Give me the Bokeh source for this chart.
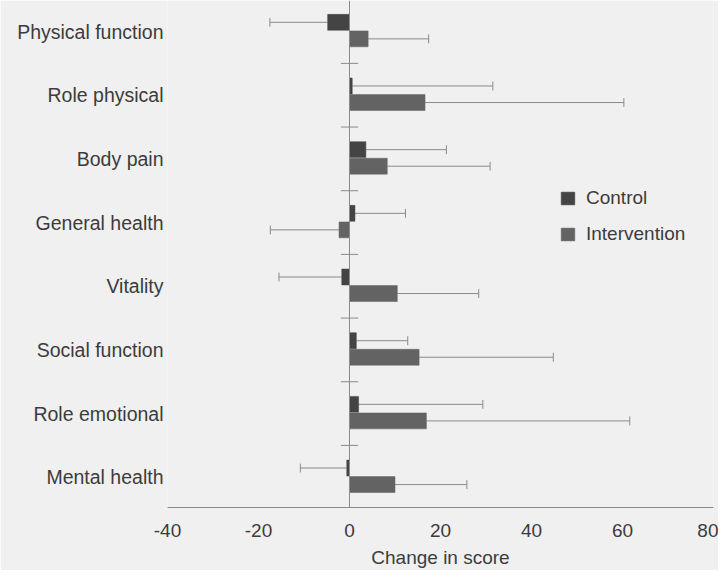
from bokeh.plotting import figure
from bokeh.models import Range1d, FixedTicker, Span, ColumnDataSource, Legend, LegendItem
from bokeh.embed import file_html
from bokeh.resources import INLINE

categories = ["Physical function", "Role physical", "Body pain", "General health",
              "Vitality", "Social function", "Role emotional", "Mental health"]
control_mean = [-4.8, 0.6, 3.6, 1.2, -1.7, 1.5, 2.0, -0.6]
control_err = [12.7, 30.9, 17.7, 11.1, 13.8, 11.3, 27.3, 10.2]
intervention_mean = [4.1, 16.6, 8.3, -2.3, 10.5, 15.3, 16.9, 10.0]
intervention_err = [13.3, 43.7, 22.6, 15.1, 17.9, 29.5, 44.7, 15.8]
x_ticks = [-40, -20, 0, 20, 40, 60, 80]
x_tick_labels = ["-40", "-20", "0", "20", "40", "60", "80"]

BG = "#f0f0f0"
TXT = "#3c3c3c"
AX = "#8a8a8a"
C_CTRL = "#444444"
C_INT = "#636363"
FONT = "Liberation Sans"

n = len(categories)
p = figure(width=718, height=570, output_backend="svg", toolbar_location=None,
           x_range=Range1d(x_ticks[0], x_ticks[-1]),
           y_range=Range1d(7.975, 0.0125),
           min_border_left=167, min_border_right=5, min_border_top=0, min_border_bottom=62)
p.background_fill_color = BG
p.border_fill_color = BG
p.outline_line_color = None
p.xgrid.visible = False
p.ygrid.visible = False

# x axis
p.xaxis.ticker = FixedTicker(ticks=x_ticks)
p.xaxis.major_label_overrides = {t: s for t, s in zip(x_ticks, x_tick_labels)}
p.xaxis.axis_line_color = AX
p.xaxis.major_tick_line_color = None
p.xaxis.minor_tick_line_color = None
p.xaxis.major_tick_out = 0
p.xaxis.major_tick_in = 0
p.xaxis.minor_tick_out = 0
p.xaxis.major_label_text_font = FONT
p.xaxis.major_label_text_font_size = "19px"
p.xaxis.major_label_text_color = TXT
p.xaxis.major_label_standoff = 16
p.xaxis.axis_label = "Change in score"
p.xaxis.axis_label_text_font = FONT
p.xaxis.axis_label_text_font_size = "19px"
p.xaxis.axis_label_text_font_style = "normal"
p.xaxis.axis_label_text_color = TXT
p.xaxis.axis_label_standoff = 7

# y axis (category labels)
centers = [i + 0.5 for i in range(n)]
p.yaxis.ticker = FixedTicker(ticks=centers)
p.yaxis.major_label_overrides = {c: name for c, name in zip(centers, categories)}
p.yaxis.axis_line_color = None
p.yaxis.major_tick_line_color = None
p.yaxis.minor_tick_line_color = None
p.yaxis.major_tick_out = 0
p.yaxis.major_tick_in = 0
p.yaxis.minor_tick_out = 0
p.yaxis.major_label_text_font = FONT
p.yaxis.major_label_text_font_size = "19.5px"
p.yaxis.major_label_text_color = TXT
p.yaxis.major_label_standoff = 4

# zero line and category separator ticks
p.add_layout(Span(location=0, dimension="height", line_color=AX, line_width=1))
bounds = [i + 1 for i in range(n - 1)]
p.segment(x0=[-1.9] * len(bounds), x1=[1.9] * len(bounds), y0=bounds, y1=bounds,
          line_color=AX, line_width=1)

bar_h = 0.25
off_c = -0.145
off_i = 0.115
cap = 0.07

def series(means, errs, off, color):
    ys = [c + off for c in centers]
    ends = [m + (e if m >= 0 else -e) for m, e in zip(means, errs)]
    src = ColumnDataSource(dict(y=ys, right=means, end=ends,
                                y0=[y - cap for y in ys], y1=[y + cap for y in ys]))
    p.segment(x0="right", x1="end", y0="y", y1="y", source=src, line_color=AX, line_width=1)
    p.segment(x0="end", x1="end", y0="y0", y1="y1", source=src, line_color=AX, line_width=1)
    return p.hbar(y="y", left=0, right="right", height=bar_h, source=src,
                  fill_color=color, line_color=color, line_width=0.5)

r_c = series(control_mean, control_err, off_c, C_CTRL)
r_i = series(intervention_mean, intervention_err, off_i, C_INT)

legend = Legend(items=[LegendItem(label="Control", renderers=[r_c]),
                       LegendItem(label="Intervention", renderers=[r_i])],
                location=(392, 262))
legend.background_fill_alpha = 0
legend.border_line_alpha = 0
legend.padding = 0
legend.margin = 0
legend.glyph_width = 17
legend.glyph_height = 16
legend.label_standoff = 10
legend.spacing = 14
legend.label_text_font = FONT
legend.label_text_font_size = "19px"
legend.label_text_color = TXT
p.add_layout(legend)

open("out.html", "w").write(file_html(p, INLINE))
